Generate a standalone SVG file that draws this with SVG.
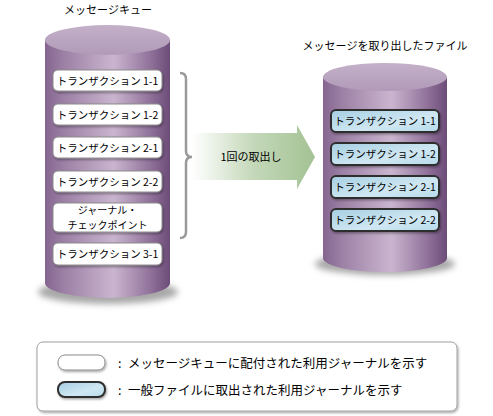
<svg xmlns="http://www.w3.org/2000/svg" width="493" height="416" viewBox="0 0 493 416">
<defs>
<linearGradient id="cylSide" x1="0" y1="0" x2="1" y2="0">
<stop offset="0" stop-color="#85658f"/>
<stop offset="0.15" stop-color="#9c80a5"/>
<stop offset="0.55" stop-color="#cab5cf"/>
<stop offset="0.85" stop-color="#8f7099"/>
<stop offset="1" stop-color="#6c4c78"/>
</linearGradient>
<linearGradient id="cylTop" x1="0" y1="0" x2="0" y2="1">
<stop offset="0" stop-color="#c4b0c9"/>
<stop offset="1" stop-color="#b09ab8"/>
</linearGradient>
<linearGradient id="blueFill" x1="0" y1="0" x2="1" y2="1">
<stop offset="0" stop-color="#a6cfe2"/>
<stop offset="0.6" stop-color="#cfe7f2"/>
<stop offset="1" stop-color="#b6dbeb"/>
</linearGradient>
<linearGradient id="arrowFill" x1="0" y1="0" x2="1" y2="0">
<stop offset="0" stop-color="#ffffff"/>
<stop offset="0.5" stop-color="#c4d8b9"/>
<stop offset="1" stop-color="#a3c294"/>
</linearGradient>
<filter id="blur" x="-20%" y="-50%" width="140%" height="200%">
<feGaussianBlur stdDeviation="3"/>
</filter>
<filter id="dshadow" x="-10%" y="-20%" width="125%" height="160%">
<feDropShadow dx="1" dy="1.5" stdDeviation="0.8" flood-color="#000" flood-opacity="0.35"/>
</filter>
</defs>
<style>
text{font-family:"Noto Sans CJK JP","Noto Sans",sans-serif;fill:#000;}
.t{font-size:10.5px;text-anchor:middle;}
.t2{font-size:10px;text-anchor:middle;}
.title{font-size:11px;text-anchor:middle;}
.wbox{fill:#fff;stroke:#8c8c8c;stroke-width:1;filter:url(#dshadow);}
.bbox{fill:url(#blueFill);stroke:#2e2e2e;stroke-width:2;filter:url(#dshadow);}
.side{fill:url(#cylSide);}
.top{fill:url(#cylTop);}
.shadow{fill:#8a8a8a;opacity:0.75;filter:url(#blur);}
.leg{font-size:12.5px;}
</style>
<rect width="493" height="416" fill="#fff"/>

<g id="queue">
<text class="title" x="108" y="13.5">メッセージキュー</text>
<ellipse class="shadow" cx="108" cy="292" rx="70" ry="12"/>
<path class="side" d="M45,40 L45,283 A62.5,15 0 0 0 170,283 L170,40 Z"/>
<ellipse class="top" cx="107.5" cy="40" rx="62.5" ry="15"/>
</g>

<g id="q11"><rect class="wbox" x="53" y="70" width="109" height="21" rx="5"/><text class="t" x="107.5" y="84.5">トランザクション 1-1</text></g>
<g id="q12"><rect class="wbox" x="53" y="104" width="109" height="21" rx="5"/><text class="t" x="107.5" y="118.5">トランザクション 1-2</text></g>
<g id="q21"><rect class="wbox" x="53" y="137" width="109" height="21" rx="5"/><text class="t" x="107.5" y="151.5">トランザクション 2-1</text></g>
<g id="q22"><rect class="wbox" x="53" y="171" width="109" height="21" rx="5"/><text class="t" x="107.5" y="185.5">トランザクション 2-2</text></g>
<g id="qcp"><rect class="wbox" x="53" y="203" width="109" height="29" rx="5"/><text class="t2" x="107.5" y="213.5">ジャーナル・</text><text class="t2" x="107.5" y="228.5">チェックポイント</text></g>
<g id="q31"><rect class="wbox" x="53" y="243" width="109" height="22" rx="5"/><text class="t" x="107.5" y="258">トランザクション 3-1</text></g>

<g id="file">
<text class="title" x="385" y="50">メッセージを取り出したファイル</text>
<ellipse class="shadow" cx="385" cy="264" rx="70" ry="11"/>
<path class="side" d="M323,77 L323,258 A62,14 0 0 0 447,258 L447,77 Z"/>
<ellipse class="top" cx="385" cy="77" rx="62" ry="14"/>
</g>

<g id="f11"><rect class="bbox" x="331" y="110" width="108" height="22" rx="5"/><text class="t" x="385" y="125">トランザクション 1-1</text></g>
<g id="f12"><rect class="bbox" x="331" y="143" width="108" height="22" rx="5"/><text class="t" x="385" y="158">トランザクション 1-2</text></g>
<g id="f21"><rect class="bbox" x="331" y="176" width="108" height="22" rx="5"/><text class="t" x="385" y="191">トランザクション 2-1</text></g>
<g id="f22"><rect class="bbox" x="331" y="209" width="108" height="22" rx="5"/><text class="t" x="385" y="224">トランザクション 2-2</text></g>

<g id="connectors">
<path d="M180,73 Q186,73 186,79 L186,151 Q186,157 192,157 Q186,157 186,163 L186,232 Q186,238 180,238" fill="none" stroke="#9a9a9a" stroke-width="2.5"/>
<polygon points="192,133 297,133 297,125 315,157 297,189 297,180 192,180" fill="url(#arrowFill)"/>
<text x="251" y="161" style="font-size:11px;text-anchor:middle">1回の取出し</text>
</g>

<g id="legend">
<rect x="37" y="342" width="420" height="69" rx="6" fill="#fff" stroke="#a0a0a0" stroke-width="1" filter="url(#dshadow)"/>
<rect x="58" y="355" width="47" height="15" rx="7" fill="#fff" stroke="#8c8c8c" stroke-width="1" filter="url(#dshadow)"/>
<text class="leg" x="118" y="367.5">:</text>
<text class="leg" x="128" y="367.5">メッセージキューに配付された利用ジャーナルを示す</text>
<rect x="58" y="382" width="47" height="15" rx="7" fill="url(#blueFill)" stroke="#2e2e2e" stroke-width="2" filter="url(#dshadow)"/>
<text class="leg" x="118" y="394.5">:</text>
<text class="leg" x="128" y="394.5">一般ファイルに取出された利用ジャーナルを示す</text>
</g>
</svg>
